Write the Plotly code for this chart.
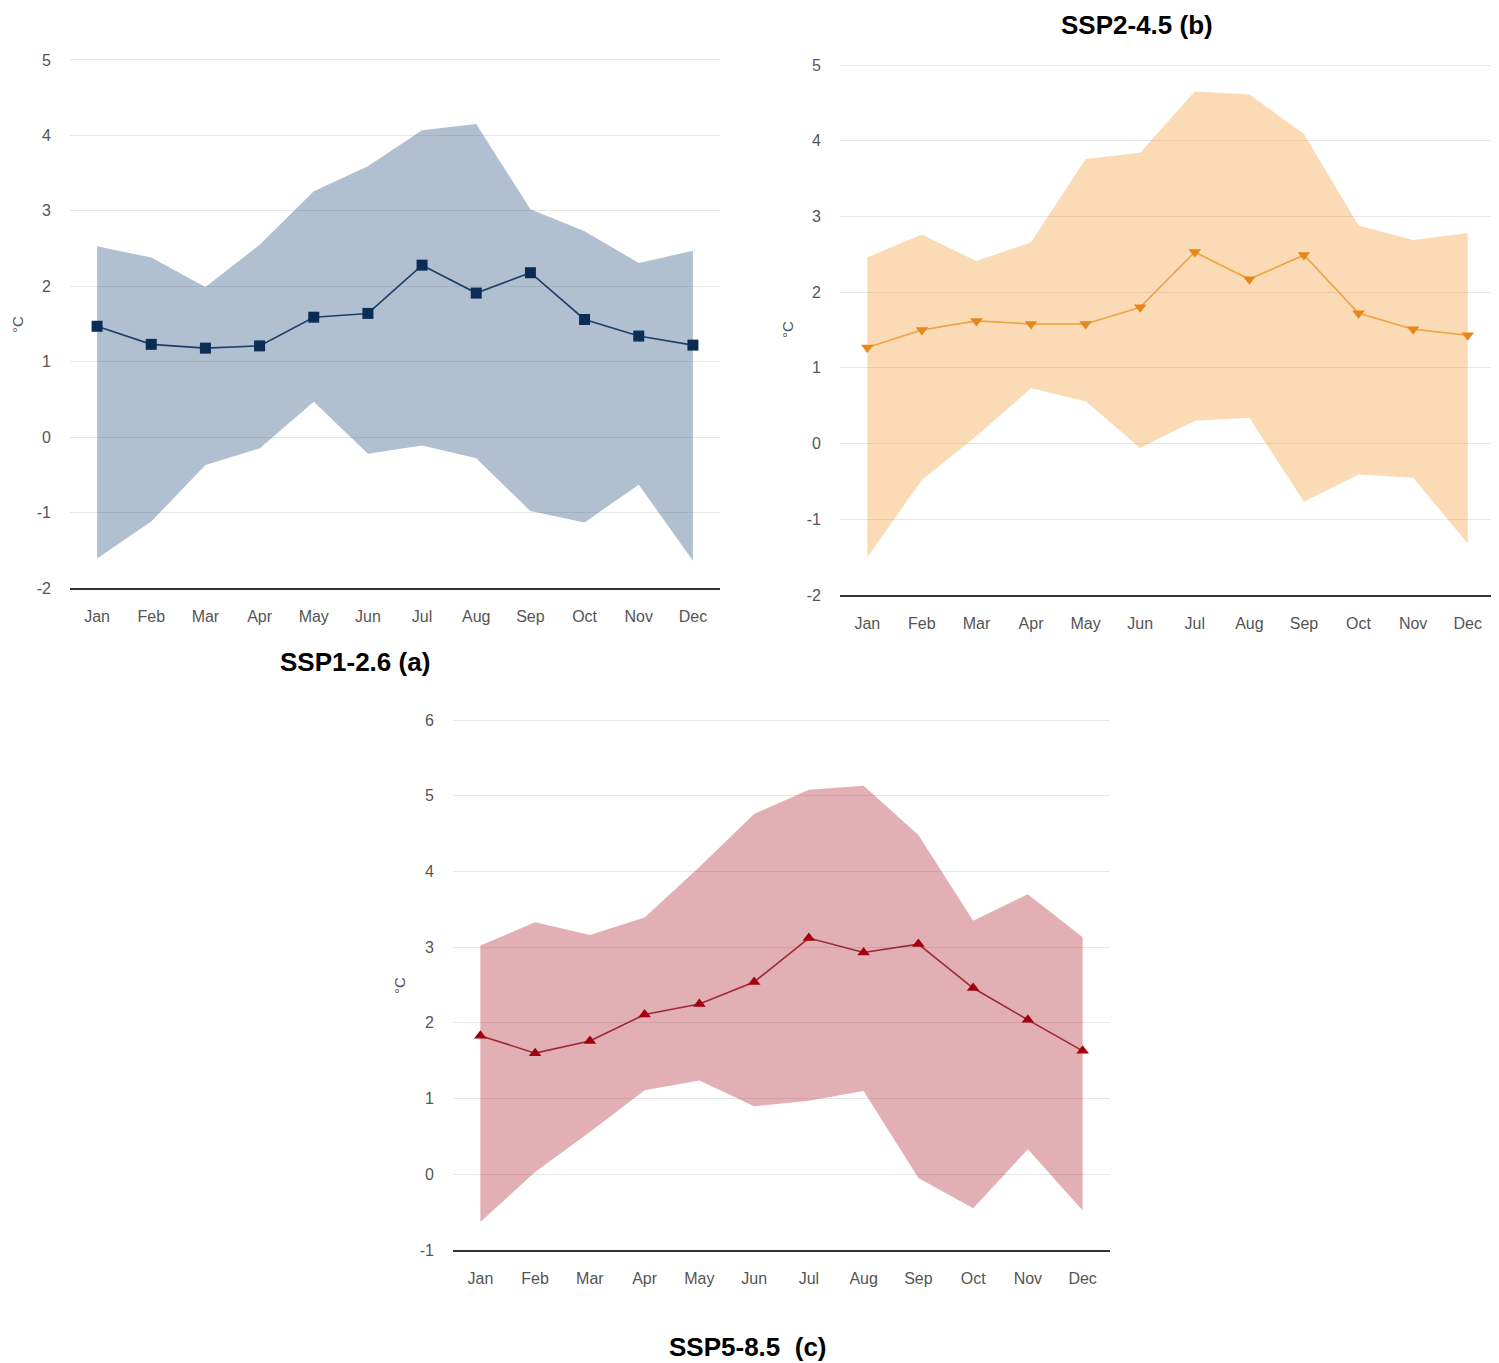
import plotly.graph_objects as go

# The page body adds an 8px margin; figure coordinates are reference pixels minus OFF
OFF = 8
W, H = 1491, 1355

months = ["Jan", "Feb", "Mar", "Apr", "May", "Jun", "Jul", "Aug", "Sep", "Oct", "Nov", "Dec"]

# SSP1-2.6 (a)
a_upper = [2.53, 2.38, 1.99, 2.55, 3.26, 3.59, 4.07, 4.15, 3.02, 2.73, 2.31, 2.47]
a_mean  = [1.47, 1.23, 1.18, 1.21, 1.59, 1.64, 2.28, 1.91, 2.18, 1.56, 1.34, 1.22]
a_lower = [-1.61, -1.12, -0.37, -0.15, 0.47, -0.22, -0.11, -0.28, -0.98, -1.13, -0.63, -1.64]

# SSP2-4.5 (b)
b_upper = [2.46, 2.76, 2.41, 2.66, 3.76, 3.84, 4.65, 4.61, 4.09, 2.88, 2.69, 2.78]
b_mean  = [1.27, 1.50, 1.62, 1.58, 1.58, 1.80, 2.53, 2.17, 2.49, 1.72, 1.51, 1.43]
b_lower = [-1.50, -0.48, 0.10, 0.73, 0.56, -0.06, 0.30, 0.34, -0.77, -0.41, -0.45, -1.32]

# SSP5-8.5 (c)
c_upper = [3.02, 3.33, 3.16, 3.39, 4.06, 4.76, 5.08, 5.13, 4.48, 3.35, 3.70, 3.13]
c_mean  = [1.83, 1.60, 1.76, 2.11, 2.25, 2.54, 3.12, 2.93, 3.04, 2.46, 2.04, 1.63]
c_lower = [-0.63, 0.03, 0.56, 1.11, 1.24, 0.90, 0.97, 1.10, -0.05, -0.45, 0.33, -0.48]

ab_ticks = [-2, -1, 0, 1, 2, 3, 4, 5]
c_ticks = [-1, 0, 1, 2, 3, 4, 5, 6]

EXT = 0.05  # small headroom so the top gridline is drawn

panels = [
    dict(upper=a_upper, mean=a_mean, lower=a_lower, ax="", fill="rgba(57,98,140,0.40)",
         line="#1d3f66", marker="#0b2d55", symbol="square", msize=11,
         x0=70, x1=720, ytop=60, ybot=588, lo=-2, hi=5, ticks=ab_ticks),
    dict(upper=b_upper, mean=b_mean, lower=b_lower, ax="2", fill="rgba(240,150,40,0.34)",
         line="#efa23e", marker="#e8861a", symbol="triangle-down", msize=11,
         x0=840, x1=1495, ytop=65, ybot=595, lo=-2, hi=5, ticks=ab_ticks),
    dict(upper=c_upper, mean=c_mean, lower=c_lower, ax="3", fill="rgba(180,45,60,0.38)",
         line="#9e2a2f", marker="#a3000f", symbol="triangle-up", msize=11,
         x0=453, x1=1110, ytop=720, ybot=1250, lo=-1, hi=6, ticks=c_ticks),
]


def px_x(v):
    return min(max((v - OFF) / W, 0), 1)


def px_y(v):
    return min(max(1 - (v - OFF) / H, 0), 1)


fig = go.Figure()
layout = dict(width=W, height=H, margin=dict(l=0, r=0, t=0, b=0, autoexpand=False),
              paper_bgcolor="white", plot_bgcolor="white", showlegend=False,
              font=dict(family="Liberation Sans, Arial, sans-serif", color="#555"))

for p in panels:
    xa = "x" + p["ax"]
    ya = "y" + p["ax"]
    fig.add_trace(go.Scatter(x=months, y=p["lower"], mode="lines", line=dict(width=0),
                             xaxis=xa, yaxis=ya, hoverinfo="skip"))
    fig.add_trace(go.Scatter(x=months, y=p["upper"], mode="lines", line=dict(width=0),
                             fill="tonexty", fillcolor=p["fill"], xaxis=xa, yaxis=ya))
    fig.add_trace(go.Scatter(x=months, y=p["mean"], mode="lines+markers",
                             line=dict(color=p["line"], width=1.6),
                             marker=dict(symbol=p["symbol"], size=p["msize"], color=p["marker"]),
                             xaxis=xa, yaxis=ya))
    ppu = (p["ybot"] - p["ytop"]) / (p["hi"] - p["lo"])
    ytop_ext = p["ytop"] - EXT * ppu
    layout["xaxis" + p["ax"]] = dict(
        domain=[px_x(p["x0"]), px_x(p["x1"])], anchor=ya, type="category",
        categoryorder="array", categoryarray=months, range=[-0.5, 11.5],
        showgrid=False, zeroline=False, showline=True, linecolor="#333", linewidth=1.5,
        ticks="", tickfont=dict(size=16, color="#555"), ticklabelstandoff=13,
        automargin=False)
    layout["yaxis" + p["ax"]] = dict(
        domain=[px_y(p["ybot"]), px_y(ytop_ext)], anchor=xa, range=[p["lo"], p["hi"] + EXT],
        tickmode="array", tickvals=p["ticks"], ticktext=[str(t) for t in p["ticks"]],
        showgrid=True, gridcolor="#e6e6e6", gridwidth=1, zeroline=False, showline=False,
        ticks="", tickfont=dict(size=16, color="#555"), ticklabelstandoff=18,
        automargin=False)

titles = [("<b>SSP1-2.6 (a)</b>", 355, 662),
          ("<b>SSP2-4.5 (b)</b>", 1137, 25),
          ("<b>SSP5-8.5  (c)</b>", 748, 1347)]
anns = []
for text, xx, yy in titles:
    anns.append(dict(text=text, x=px_x(xx), y=px_y(yy), xref="paper", yref="paper",
                     showarrow=False, xanchor="center", yanchor="middle",
                     font=dict(size=26, color="#000", family="Liberation Sans, Arial, sans-serif")))
for (xx, yy) in [(18, 325), (787, 330), (399, 985)]:
    anns.append(dict(text="°C", x=px_x(xx), y=px_y(yy), xref="paper", yref="paper",
                     showarrow=False, textangle=-90, xanchor="center", yanchor="middle",
                     font=dict(size=15, color="#555")))
layout["annotations"] = anns

fig.update_layout(**layout)
fig.write_html("out.html")
